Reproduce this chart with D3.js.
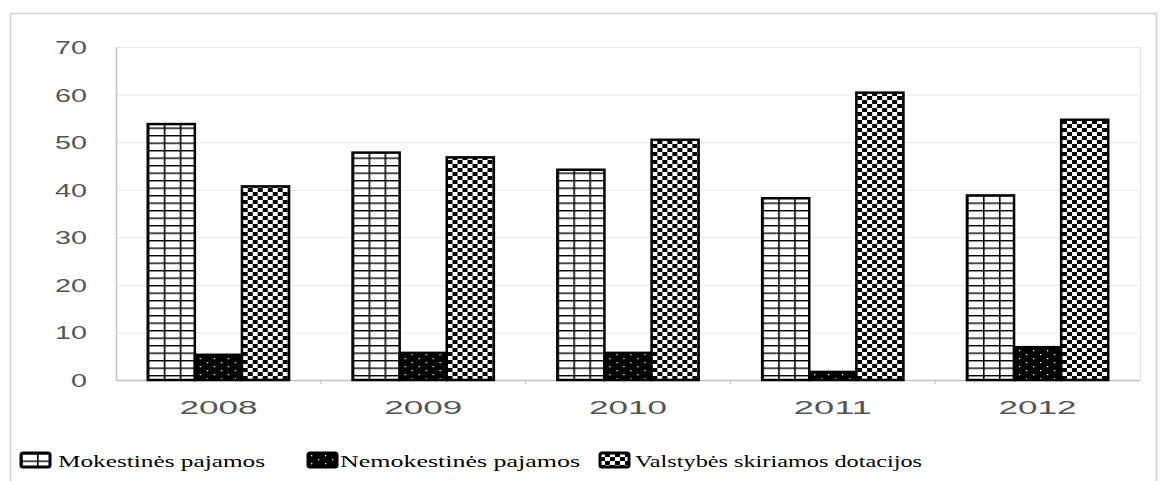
<!DOCTYPE html>
<html><head><meta charset="utf-8">
<script src="https://cdn.jsdelivr.net/npm/d3@7"></script>
<style>html,body{margin:0;padding:0;background:#fff;}svg{display:block;}</style>
</head><body>
<svg id="c" width="1160" height="481"></svg>
<script>
const years = ["2008","2009","2010","2011","2012"];
const seriesNames = ["Mokestinės pajamos","Nemokestinės pajamos","Valstybės skiriamos dotacijos"];
const mokestines = [53.8, 47.8, 44.2, 38.2, 38.8];
const nemokestines = [5.3, 5.7, 5.7, 1.7, 6.9];
const dotacijos = [40.7, 46.8, 50.5, 60.4, 54.7];
const yTicks = [0,10,20,30,40,50,60,70];

(function(){
const svg = d3.select("#c");
const defs = svg.append("defs");
const pg = defs.append("pattern").attr("id","pGrid").attr("patternUnits","userSpaceOnUse").attr("width",16).attr("height",7.5);
pg.append("rect").attr("width",16).attr("height",7.5).attr("fill","#fff");
pg.append("rect").attr("x",0).attr("y",0).attr("width",1.6).attr("height",7.5).attr("fill","#000");
pg.append("rect").attr("x",0).attr("y",0).attr("width",16).attr("height",1.4).attr("fill","#000");
const pd = defs.append("pattern").attr("id","pDots").attr("patternUnits","userSpaceOnUse").attr("width",14).attr("height",8);
pd.append("rect").attr("width",14).attr("height",8).attr("fill","#000");
pd.append("rect").attr("x",3).attr("y",2).attr("width",1.3).attr("height",1.3).attr("fill","#fff");
pd.append("rect").attr("x",10).attr("y",6).attr("width",1.3).attr("height",1.3).attr("fill","#fff");
const pc = defs.append("pattern").attr("id","pCheck").attr("patternUnits","userSpaceOnUse").attr("width",10).attr("height",8);
pc.append("rect").attr("width",10).attr("height",8).attr("fill","#000");
pc.append("rect").attr("x",0).attr("y",0).attr("width",5).attr("height",4).attr("fill","#fff");
pc.append("rect").attr("x",5).attr("y",4).attr("width",5).attr("height",4).attr("fill","#fff");
const fills = ["url(#pGrid)","url(#pDots)","url(#pCheck)"];

svg.append("rect").attr("x",10.5).attr("y",13.5).attr("width",1146).attr("height",480)
  .attr("fill","none").attr("stroke","#d0d0d0").attr("stroke-width",1.5);

const pL = 116, pR = 1140, pT = 47, pB = 380;
const y = d3.scaleLinear().domain([0,70]).range([pB, pT]);
const x0 = d3.scaleBand().domain(years).range([pL, pR]).paddingInner(0.31).paddingOuter(0.155);
const x1 = d3.scaleBand().domain(seriesNames).range([0, x0.bandwidth()]);

svg.append("g").selectAll("line").data(yTicks.filter(d=>d>0)).join("line")
  .attr("x1",pL).attr("x2",pR).attr("y1",d=>y(d)+0.5).attr("y2",d=>y(d)+0.5)
  .attr("stroke","#e8e8e8").attr("stroke-width",1);
svg.append("line").attr("x1",pR+0.5).attr("x2",pR+0.5).attr("y1",pT).attr("y2",pB)
  .attr("stroke","#e0e0e0");

const yAxis = svg.append("g").attr("transform",`translate(${pL},0)`)
  .call(d3.axisLeft(y).tickValues(yTicks).tickSize(0).tickPadding(0));
yAxis.select(".domain").attr("stroke","#c0c0c0").attr("stroke-width",1.5);
yAxis.selectAll("text").attr("x",-29).attr("dy","0.36em")
  .attr("font-family","Liberation Sans, Arial, sans-serif").attr("font-size",18).attr("fill","#555")
  .attr("textLength",function(){return this.textContent.length*16;}).attr("lengthAdjust","spacingAndGlyphs");

const xAxis = svg.append("g").attr("transform",`translate(0,${pB})`)
  .call(d3.axisBottom(x0).tickSize(0).tickPadding(0));
xAxis.select(".domain").attr("stroke","#c0c0c0").attr("stroke-width",1.5);
xAxis.selectAll("text").attr("y",34).attr("dy",0)
  .attr("font-family","Liberation Sans, Arial, sans-serif").attr("font-size",18).attr("fill","#555")
  .attr("textLength",78).attr("lengthAdjust","spacingAndGlyphs");
const step = x0.step();
svg.append("g").selectAll("line").data(years.slice(1)).join("line")
  .attr("x1",d=>x0(d)-x0.paddingInner()*step/2).attr("x2",d=>x0(d)-x0.paddingInner()*step/2)
  .attr("y1",pB).attr("y2",pB+4).attr("stroke","#c0c0c0");

const seriesData = [mokestines, nemokestines, dotacijos];
const groups = svg.append("g").selectAll("g").data(years).join("g")
  .attr("transform",d=>`translate(${x0(d)},0)`);
groups.selectAll("rect").data((d,i)=>seriesNames.map((s,j)=>({s, j, v: seriesData[j][i]}))).join("rect")
  .attr("x",d=>x1(d.s)).attr("width",x1.bandwidth())
  .attr("y",d=>y(d.v)).attr("height",d=>y(0)-y(d.v))
  .attr("fill",d=>fills[d.j]).attr("stroke","#000").attr("stroke-width",2.5);

const legendX = [21, 308, 600];
const legendW = [207, 240, 287];
const lg = svg.append("g").selectAll("g").data(seriesNames).join("g")
  .attr("transform",(d,i)=>`translate(${legendX[i]},453)`);
lg.append("rect").attr("width",29).attr("height",14).attr("rx",2)
  .attr("fill",(d,i)=>fills[i]).attr("stroke","#000").attr("stroke-width",3);
lg.append("text").attr("x",(d,i)=>i===2?35:(i===1?32:37)).attr("y",14)
  .attr("font-family","Liberation Serif, Times New Roman, serif").attr("font-size",16).attr("fill","#000")
  .attr("textLength",(d,i)=>legendW[i]).attr("lengthAdjust","spacingAndGlyphs")
  .text(d=>d);
})();
</script>
</body></html>
